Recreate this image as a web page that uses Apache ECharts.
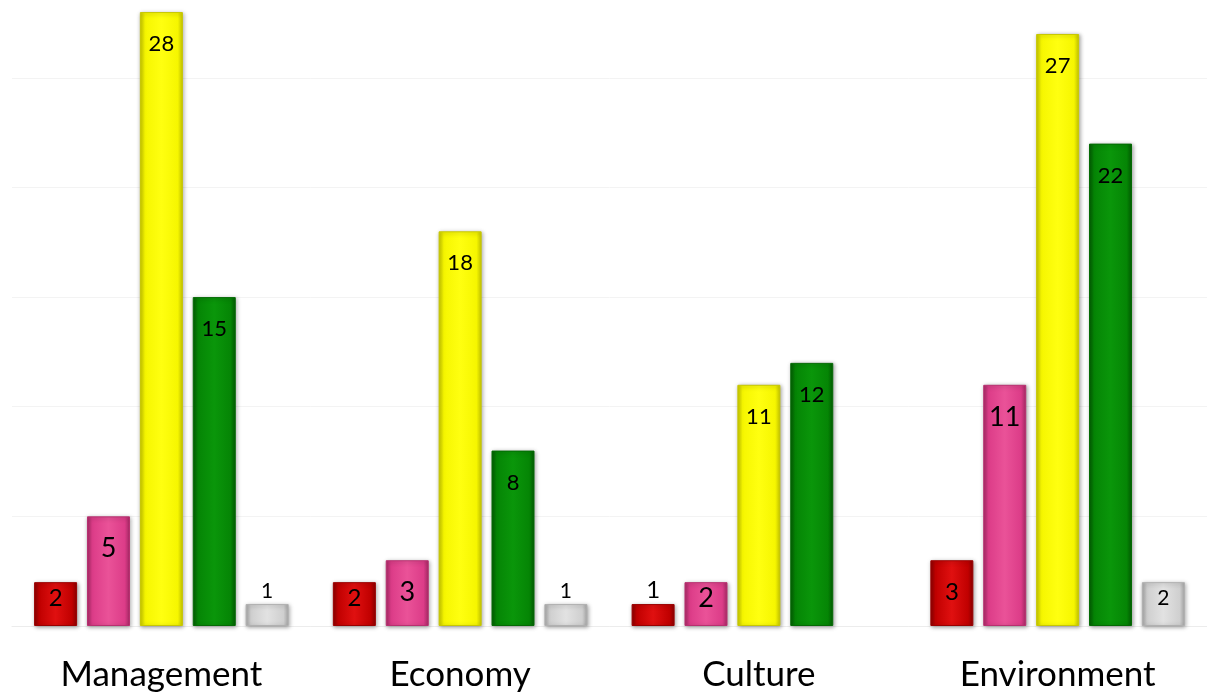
<!DOCTYPE html>
<html>
<head>
<meta charset="utf-8">
<script src="https://cdn.jsdelivr.net/npm/echarts@6/dist/echarts.min.js"></script>
<style>html,body{margin:0;padding:0;background:#fff;}#c{width:1207px;height:696px;}</style>
</head>
<body>
<div id="c"></div>
<script>
const categories = ['Management', 'Economy', 'Culture', 'Environment'];
const redValues = [2, 2, 1, 3];
const pinkValues = [5, 3, 2, 11];
const yellowValues = [28, 18, 11, 27];
const greenValues = [15, 8, 12, 22];
const greyValues = [1, 1, null, 2];

const FONT = 'Lato, "Open Sans", sans-serif';

function grad(dark, mid, light) {
  return new echarts.graphic.LinearGradient(0, 0, 1, 0, [
    {offset: 0, color: dark},
    {offset: 0.12, color: mid},
    {offset: 0.5, color: light},
    {offset: 0.88, color: mid},
    {offset: 1, color: dark}
  ]);
}

function items(vals, fs) {
  return vals.map(v => {
    if (v === null) return '-';
    let label;
    if (v <= 1) label = {position: 'top', distance: 2};
    else if (v <= 2) label = {position: 'insideTop', distance: Math.max(0, 16 - fs / 2)};
    else label = {position: 'insideTop', distance: 32 - fs / 2};
    return {value: v, label: label};
  });
}

function mk(name, vals, colors, border, fs) {
  return {
    name: name,
    type: 'bar',
    barWidth: 43,
    barGap: '23%',
    data: items(vals, fs),
    itemStyle: {
      color: grad(colors[0], colors[1], colors[2]),
      borderColor: border,
      borderWidth: 1,
      shadowColor: 'rgba(0,0,0,0.35)',
      shadowBlur: 4,
      shadowOffsetX: 1,
      shadowOffsetY: 1
    },
    label: {
      show: true,
      color: '#000',
      fontFamily: FONT,
      fontSize: fs
    },
    emphasis: {disabled: true}
  };
}

const chart = echarts.init(document.getElementById('c'));
chart.setOption({
  animation: false,
  backgroundColor: '#fff',
  grid: {left: 12, right: 0, top: 0, bottom: 70, containLabel: false},
  xAxis: {
    type: 'category',
    data: categories,
    axisLine: {show: true, lineStyle: {color: '#ececec'}},
    axisTick: {show: false},
    axisLabel: {color: '#000', fontFamily: FONT, fontSize: 35, margin: 31}
  },
  yAxis: {
    type: 'value',
    min: 0,
    max: 28.55,
    interval: 5,
    axisLabel: {show: false},
    axisLine: {show: false},
    axisTick: {show: false},
    splitLine: {show: true, lineStyle: {color: ['#f3f3f3', '#f3f3f3', '#f3f3f3', '#f3f3f3', '#f3f3f3', '#f3f3f3', '#ffffff']}}
  },
  series: [
    mk('red', redValues, ['#8c0000', '#c00000', '#e01010'], '#9a0000', 24),
    mk('pink', pinkValues, ['#a82a66', '#dc3c88', '#ea5298'], '#b83070', 27),
    mk('yellow', yellowValues, ['#c8c800', '#f6f600', '#ffff10'], '#c8c800', 22),
    mk('green', greenValues, ['#035c03', '#058505', '#0a960a'], '#046a04', 22),
    mk('grey', greyValues, ['#a8a8a8', '#cfcfcf', '#e2e2e2'], '#b0b0b0', 21)
  ]
});
</script>
</body>
</html>
